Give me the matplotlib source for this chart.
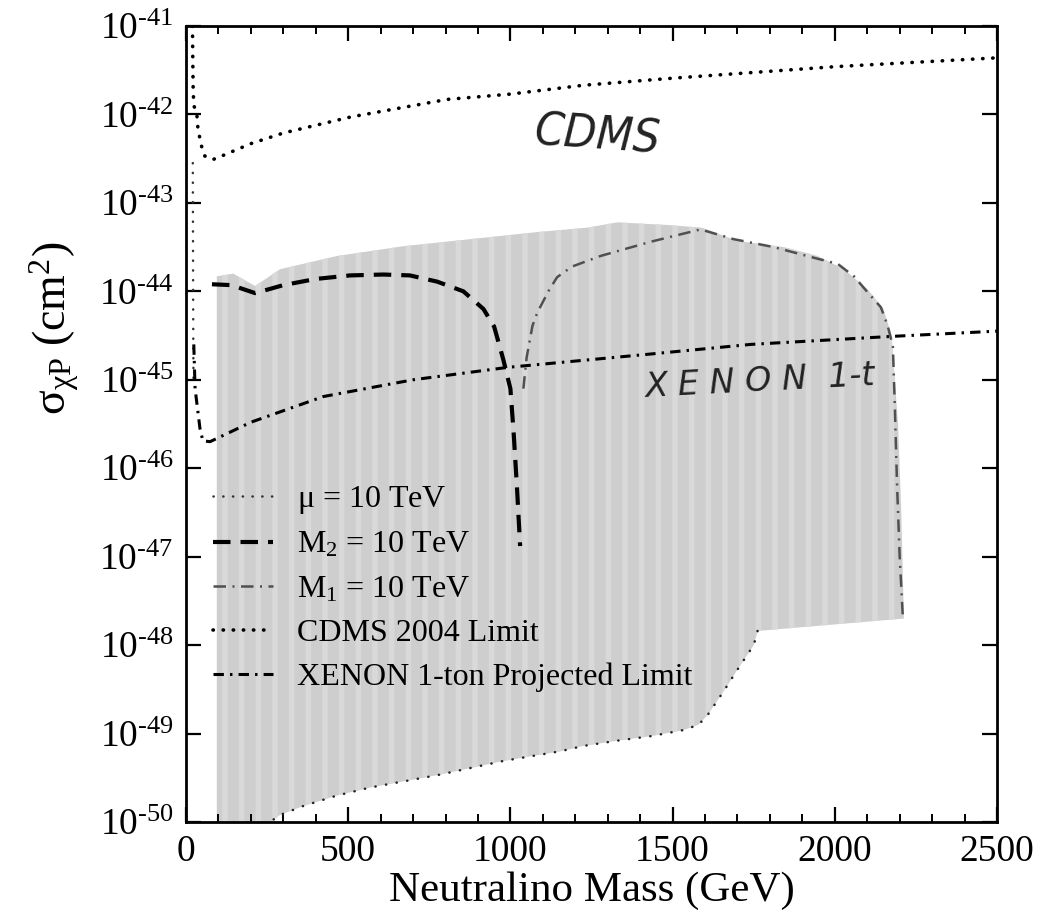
import numpy as np
import matplotlib
matplotlib.use("Agg")
import matplotlib.pyplot as plt
from matplotlib.ticker import FixedLocator, MultipleLocator, NullLocator

plt.rcParams['font.family'] = ['Liberation Serif', 'DejaVu Serif']
plt.rcParams['mathtext.fontset'] = 'custom'
plt.rcParams['mathtext.rm'] = 'Liberation Serif'
plt.rcParams['mathtext.it'] = 'Liberation Serif:italic'
plt.rcParams['mathtext.bf'] = 'Liberation Serif:bold'
plt.rcParams['hatch.linewidth'] = 4.0

# ---------------- data (exponents of sigma in cm^2) ----------------
cdms_mass = [20, 21, 22, 24, 33, 37, 48, 58, 83, 110, 200, 300, 506, 805, 1000, 1225, 1500, 2000, 2500]
cdms_exp = [-41.0, -41.4, -41.7, -41.9, -41.98, -42.17, -42.36, -42.47, -42.51, -42.47, -42.33, -42.21,
            -42.03, -41.83, -41.77, -41.67, -41.59, -41.46, -41.36]

xenon_mass = [24, 28, 43, 52, 74, 120, 200, 423, 700, 991, 1400, 1741, 2173, 2500]
xenon_exp = [-44.6, -45.10, -45.55, -45.69, -45.70, -45.62, -45.48, -45.19, -45.0, -44.86, -44.72,
             -44.60, -44.51, -44.45]

mu_mass = [21, 21.5, 22, 22.5, 23]
mu_exp = [-42.55, -43.3, -44.0, -44.6, -45.0]

m2_mass = [80, 140, 213, 300, 400, 506, 608, 690, 774, 855, 917, 950, 978, 1000, 1010, 1020, 1030]
m2_exp = [-43.92, -43.93, -44.02, -43.93, -43.86, -43.82, -43.81, -43.82, -43.89, -44.0, -44.2,
          -44.4, -44.77, -45.1, -45.6, -46.2, -46.88]

m1_mass = [1040, 1050, 1068, 1083, 1120, 1144, 1190, 1278, 1432, 1586, 1688, 1812, 1935, 2009, 2059,
           2101, 2142, 2163, 2179, 2185, 2192, 2200, 2210]
m1_exp = [-45.1, -44.75, -44.39, -44.24, -43.98, -43.84, -43.72, -43.60, -43.44, -43.30, -43.41,
          -43.50, -43.62, -43.69, -43.83, -44.01, -44.18, -44.39, -44.62, -45.3, -46.2, -47.0, -47.7]

region_top_mass = [95, 146, 213, 290, 466, 670, 876, 1083, 1237, 1330, 1485, 1590, 1700, 1843, 1947,
                   2028, 2102, 2150, 2175, 2195, 2205, 2213]
region_top_exp = [-43.83, -43.80, -43.94, -43.75, -43.60, -43.49, -43.41, -43.33, -43.28, -43.22,
                  -43.25, -43.28, -43.43, -43.50, -43.60, -43.75, -43.98, -44.20, -44.50, -45.50,
                  -46.50, -47.70]
region_bottom_mass = [2213, 1762, 1750, 1703, 1654, 1608, 1580, 1534, 1432, 1330, 1225, 1154, 978,
                      775, 568, 466, 361, 290, 259, 95]
region_bottom_exp = [-47.70, -47.84, -48.0, -48.26, -48.54, -48.79, -48.90, -48.96, -49.03, -49.08,
                     -49.14, -49.20, -49.31, -49.47, -49.61, -49.70, -49.82, -49.92, -50.0, -50.0]

x_ticks = [0, 500, 1000, 1500, 2000, 2500]
y_tick_exps = list(range(-50, -40))

legend_labels = [r"$\mathregular{\mu}$ = 10 TeV", r"M$_\mathregular{2}$ = 10 TeV",
                 r"M$_\mathregular{1}$ = 10 TeV", "CDMS 2004 Limit", "XENON 1-ton Projected Limit"]


def s(e):
    return 10.0 ** np.asarray(e, dtype=float)


W, H = 1040, 916
fig = plt.figure(figsize=(W / 100, H / 100), dpi=100)
ax = fig.add_axes([186 / W, 1 - 822 / H, (997 - 186) / W, (822 - 26) / H])
ax.set_yscale('log')
ax.set_xlim(0, 2500)
ax.set_ylim(1e-50, 1e-41)

# shaded scan region
poly_x = region_top_mass + region_bottom_mass
poly_y = list(s(region_top_exp)) + list(s(region_bottom_exp))
ax.fill(poly_x, poly_y, facecolor='#cecece', edgecolor='none', zorder=1)
ax.fill(poly_x, poly_y, facecolor='none', edgecolor='#d9d9d9', hatch='|', linewidth=0, zorder=1)
ax.plot(region_bottom_mass[1:19], s(region_bottom_exp[1:19]), color='#222222', lw=1.8,
        linestyle=(0, (0.1, 4.2)), dash_capstyle='round', zorder=2)

l_mu, = ax.plot(mu_mass, s(mu_exp), color='#333333', lw=1.8, linestyle=(0, (0.1, 3.8)),
                dash_capstyle='round', zorder=3)
l_m2, = ax.plot(m2_mass, s(m2_exp), color='black', lw=3.0, linestyle=(0, (4.2, 2.4)), zorder=4)
l_m1, = ax.plot(m1_mass, s(m1_exp), color='#505050', lw=1.8,
                linestyle=(0, (5.0, 2.6, 0.8, 2.6)), zorder=4)
l_cdms, = ax.plot(cdms_mass, s(cdms_exp), color='black', lw=2.6, linestyle=(0, (0.1, 2.7)),
                  dash_capstyle='round', zorder=4)
l_xe, = ax.plot(xenon_mass, s(xenon_exp), color='black', lw=2.2,
                linestyle=(0, (3.4, 2.0, 0.8, 2.0)), zorder=4)

# handwritten annotations
ax.text(1267, s(-42.25), 'CDMS', fontsize=34, family='DejaVu Sans', style='italic',
        fontweight='light', ha='center', va='center', rotation=-4, color='#222222',
        fontstretch='condensed')
ax.text(1769, s(-45.02), 'X E N O N  1-t', fontsize=24, family='DejaVu Sans', style='italic',
        fontweight='light', ha='center', va='center', rotation=3, color='#222222')

# axes styling
ax.xaxis.set_major_locator(FixedLocator(x_ticks))
ax.xaxis.set_minor_locator(MultipleLocator(100))
ax.set_xticklabels([str(t) for t in x_ticks])
ax.yaxis.set_major_locator(FixedLocator([10.0 ** e for e in y_tick_exps]))
ax.yaxis.set_minor_locator(NullLocator())
ax.set_yticklabels([r'$\mathregular{10^{\text{-}%d}}$' % (-e) for e in y_tick_exps])
ax.tick_params(which='both', direction='in', top=True, right=True, labelsize=27)
ax.tick_params(which='major', length=11, width=1.6, pad=9)
ax.tick_params(which='minor', length=5.5, width=1.4)
for sp in ax.spines.values():
    sp.set_linewidth(2.0)

ax.set_xlabel('Neutralino Mass (GeV)', fontsize=31, labelpad=2)
ax.set_ylabel(r'$\mathregular{\sigma_{\chi P}\ (cm^{2})}$', fontsize=33)
ax.yaxis.set_label_coords(-0.13, 0.62)

leg = ax.legend([l_mu, l_m2, l_m1, l_cdms, l_xe], legend_labels, loc='upper left',
                bbox_to_anchor=(0.033, 0.425), frameon=False, fontsize=23, borderpad=0,
                borderaxespad=0, handlelength=1.9, handletextpad=0.75, labelspacing=0.46)

fig.savefig('out.png', dpi=100)
